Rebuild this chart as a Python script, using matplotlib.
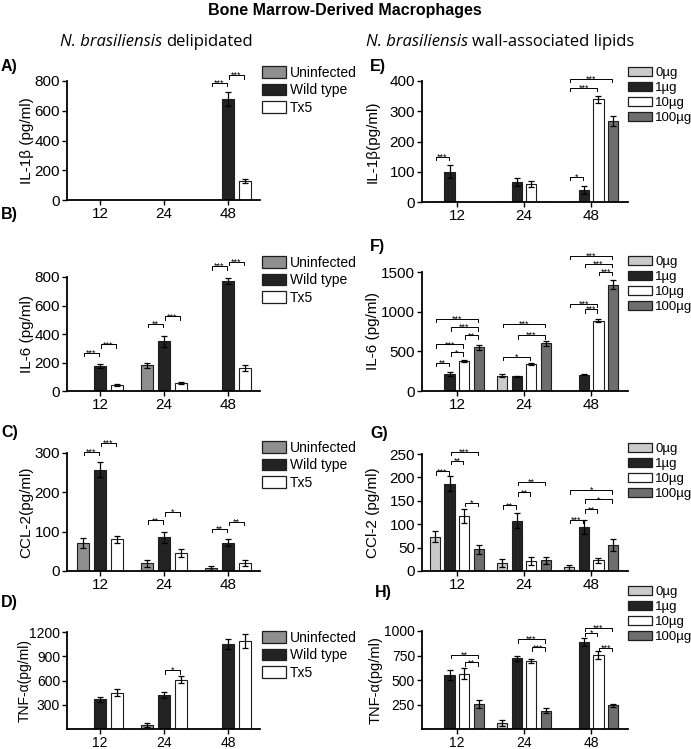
import matplotlib
matplotlib.use('Agg')
import matplotlib.pyplot as plt
import numpy as np
from matplotlib.patches import Patch

plt.rcParams['font.family'] = ['Liberation Sans', 'DejaVu Sans']

# ---------------- data ----------------
times = ['12', '24', '48']
left_groups = ['Uninfected', 'Wild type', 'Tx5']
right_groups = ['0µg', '1µg', '10µg', '100µg']

# A) IL-1b, delipidated (rows: Uninfected, Wild type, Tx5; cols: 12, 24, 48)
il1b_del_mean = [[0, 0, 0], [0, 0, 680], [0, 0, 130]]
il1b_del_err = [[0, 0, 0], [0, 0, 45], [0, 0, 14]]
il1b_del_sig = [(2, 0, 1, 787, '***'), (2, 1, 2, 840, '***')]

# B) IL-6, delipidated
il6_del_mean = [[0, 180, 0], [175, 348, 770], [40, 56, 161]]
il6_del_err = [[0, 19, 0], [17, 38, 22], [8, 10, 18]]
il6_del_sig = [(0, 0, 1, 269, '***'), (0, 1, 2, 327, '***'),
               (1, 0, 1, 472, '**'), (1, 1, 2, 524, '***'),
               (2, 0, 1, 877, '***'), (2, 1, 2, 907, '***')]

# C) CCL-2, delipidated
ccl2_del_mean = [[71, 20, 8.5], [258, 86, 72], [81, 46, 20]]
ccl2_del_err = [[13, 9, 5], [19, 14, 9], [9, 11, 7]]
ccl2_del_sig = [(0, 0, 1, 303, '***'), (0, 1, 2, 326, '***'),
                (1, 0, 1, 129, '**'), (1, 1, 2, 150, '*'),
                (2, 0, 1, 107, '**'), (2, 1, 2, 125, '**')]

# D) TNF-a, delipidated
tnf_del_mean = [[0, 55, 0], [365, 420, 1055], [450, 610, 1085]]
tnf_del_err = [[0, 25, 0], [25, 40, 60], [45, 45, 85]]
tnf_del_sig = [(1, 1, 2, 729, '*')]

# E) IL-1b, wall-associated lipids (rows: 0, 1, 10, 100 ug)
il1b_lip_mean = [[0, 0, 0], [100, 66, 40], [0, 60, 339], [0, 0, 268]]
il1b_lip_err = [[0, 0, 0], [22, 13, 12], [0, 10, 12], [0, 0, 16]]
il1b_lip_sig = [(0, 0, 1, 149, '***'), (2, 0, 1, 83, '*'),
                (2, 0, 2, 377, '***'), (2, 0, 3, 407, '***')]

# F) IL-6, lipids
il6_lip_mean = [[0, 194, 0], [215, 185, 206], [375, 341, 885], [552, 603, 1340]]
il6_lip_err = [[0, 20, 0], [20, 10, 10], [15, 12, 20], [30, 30, 60]]
il6_lip_sig = [(0, 0, 1, 358, '**'), (0, 1, 2, 489, '*'), (0, 0, 2, 590, '***'),
               (0, 2, 3, 700, '**'), (0, 1, 3, 805, '***'), (0, 0, 3, 910, '***'),
               (1, 0, 2, 434, '*'), (1, 1, 3, 704, '***'), (1, 0, 3, 847, '***'),
               (2, 1, 2, 1032, '***'), (2, 0, 2, 1100, '***'), (2, 2, 3, 1504, '***'),
               (2, 1, 3, 1605, '***'), (2, 0, 3, 1707, '***')]

# G) CCl-2, lipids
ccl2_lip_mean = [[73, 17, 8], [186, 107, 94], [118, 21, 23], [46, 23, 55]]
ccl2_lip_err = [[12, 8, 5], [16, 16, 14], [15, 9, 5], [9, 7, 13]]
ccl2_lip_sig = [(0, 0, 1, 213, '***'), (0, 1, 2, 236, '**'), (0, 1, 3, 255, '***'),
                (0, 2, 3, 146, '*'),
                (1, 0, 1, 140, '**'), (1, 1, 2, 168, '**'), (1, 1, 3, 191, '**'),
                (2, 0, 1, 110, '***'), (2, 1, 2, 132, '**'), (2, 1, 3, 153, '*'),
                (2, 0, 3, 173, '*')]

# H) TNF-a, lipids
tnf_lip_mean = [[0, 65, 0], [550, 720, 889], [563, 695, 752], [251, 186, 241]]
tnf_lip_err = [[0, 30, 0], [55, 30, 40], [55, 20, 40], [40, 25, 15]]
tnf_lip_sig = [(0, 1, 3, 756, '**'), (0, 2, 3, 681, '**'),
               (1, 1, 3, 918, '***'), (1, 2, 3, 834, '***'),
               (2, 1, 2, 984, '*'), (2, 1, 3, 1033, '***'), (2, 2, 3, 827, '***')]

left_colors = ['#8f8f8f', '#232323', '#ffffff']
right_colors = ['#cbcbcb', '#232323', '#ffffff', '#6e6e6e']
EDGE = '#1e1e1e'

# ---------------- figure ----------------
W, H = 691, 749
fig = plt.figure(figsize=(W / 100, H / 100), dpi=100)


def rect(x0, x1, yt, yb):
    return [x0 / W, 1 - yb / H, (x1 - x0) / W, (yb - yt) / H]


def panel(box, means, errs, colors, step, width, xlim, ymax, yticks, sigs,
          ylabel, ylabel_px, letter, letter_pos, legend_labels, legend_pos,
          legend_kw, tsize=11, lsize=11):
    x0, x1, yt, yb = box
    ax = fig.add_axes(rect(x0, x1, yt, yb))
    n = len(means)
    xs = np.arange(len(times))
    for i, (m, e, c) in enumerate(zip(means, errs, colors)):
        off = (i - (n - 1) / 2) * step
        m = np.array(m, float)
        e = np.array(e, float)
        ax.bar(xs + off, m, width, color=c, edgecolor=EDGE, linewidth=0.8, zorder=2)
        mask = m > 0
        ax.errorbar((xs + off)[mask], m[mask], yerr=e[mask], fmt='none',
                    ecolor='black', elinewidth=0.9, capsize=2.5, capthick=0.9,
                    zorder=3)
    d = ymax * 3.5 / (yb - yt)
    for (t, i, j, h, lab) in sigs:
        xa = t + (i - (n - 1) / 2) * step + 0.015
        xb = t + (j - (n - 1) / 2) * step - 0.015
        ax.plot([xa, xa, xb, xb], [h - d, h, h, h - d], color='black', lw=0.7,
                clip_on=False, zorder=4)
        ax.annotate(lab, ((xa + xb) / 2, h), xytext=(0, -2.2),
                    textcoords='offset points', ha='center', va='baseline',
                    fontsize=6.5, annotation_clip=False)
    ax.set_xlim(*xlim)
    ax.set_ylim(0, ymax)
    ax.set_yticks(yticks)
    ax.set_xticks(xs)
    ax.set_xticklabels(times)
    for s in ['top', 'right']:
        ax.spines[s].set_visible(False)
    for s in ['left', 'bottom']:
        ax.spines[s].set_linewidth(1.3)
    ax.tick_params(direction='out', length=3.5, width=1.0, labelsize=tsize, pad=1.5)
    ax.set_ylabel(ylabel, fontsize=lsize)
    ax.yaxis.label.set_va('center')
    ax.yaxis.set_label_coords((ylabel_px - x0) / (x1 - x0), 0.5)
    fig.text(letter_pos[0] / W, 1 - letter_pos[1] / H, letter, fontweight='bold',
             fontsize=11.5, ha='left', va='center')
    handles = [Patch(facecolor=c, edgecolor=EDGE, linewidth=0.9) for c in colors]
    ax.legend(handles, legend_labels, loc='upper left',
              bbox_to_anchor=(legend_pos[0] / W, 1 - legend_pos[1] / H),
              bbox_transform=fig.transFigure, frameon=False, borderpad=0,
              borderaxespad=0, **legend_kw)
    return ax


LSTEP, LWID = 0.266, 0.19
RSTEP, RWID = 0.217, 0.155
LXLIM = (-0.516, 2.5)
RXLIM = (-0.52, 2.55)
LBOX_X = (67, 260)
RBOX_X = (422, 628)
lkw = dict(fontsize=10, handlelength=1.7, handleheight=0.9, handletextpad=0.3,
           labelspacing=0.25)
rkw = dict(fontsize=9.5, handlelength=1.8, handleheight=0.7, handletextpad=0.25,
           labelspacing=0.2)

panel((*LBOX_X, 81, 200), il1b_del_mean, il1b_del_err, left_colors, LSTEP, LWID,
      LXLIM, 800, [0, 200, 400, 600, 800], il1b_del_sig, 'IL-1β (pg/ml)', 27,
      'A)', (1, 67), left_groups, (262, 66), lkw)
panel((*LBOX_X, 277, 391), il6_del_mean, il6_del_err, left_colors, LSTEP, LWID,
      LXLIM, 800, [0, 200, 400, 600, 800], il6_del_sig, 'IL-6 (pg/ml)', 27,
      'B)', (1, 214), left_groups, (262, 256), lkw)
panel((*LBOX_X, 453, 571), ccl2_del_mean, ccl2_del_err, left_colors, LSTEP, LWID,
      LXLIM, 300, [0, 100, 200, 300], ccl2_del_sig, 'CCL-2(pg/ml)', 26,
      'C)', (1, 432), left_groups, (262, 441), lkw)
panel((*LBOX_X, 632, 729), tnf_del_mean, tnf_del_err, left_colors, LSTEP, LWID,
      LXLIM, 1200, [300, 600, 900, 1200], tnf_del_sig, 'TNF-α(pg/ml)', 25,
      'D)', (1, 603), left_groups, (262, 631), lkw, tsize=10, lsize=10)

panel((*RBOX_X, 81, 202), il1b_lip_mean, il1b_lip_err, right_colors, RSTEP, RWID,
      RXLIM, 400, [0, 100, 200, 300, 400], il1b_lip_sig, 'IL-1β(pg/ml)', 373,
      'E)', (370, 67), right_groups, (628, 67), rkw)
panel((*RBOX_X, 272, 391), il6_lip_mean, il6_lip_err, right_colors, RSTEP, RWID,
      RXLIM, 1500, [0, 500, 1000, 1500], il6_lip_sig, 'IL-6 (pg/ml)', 373,
      'F)', (370, 247), right_groups, (628, 256), rkw)
panel((*RBOX_X, 454, 571), ccl2_lip_mean, ccl2_lip_err, right_colors, RSTEP, RWID,
      RXLIM, 250, [0, 50, 100, 150, 200, 250], ccl2_lip_sig, 'CCl-2 (pg/ml)', 373,
      'G)', (370, 433), right_groups, (628, 443), rkw)
panel((*RBOX_X, 631, 729), tnf_lip_mean, tnf_lip_err, right_colors, RSTEP, RWID,
      RXLIM, 1000, [250, 500, 750, 1000], tnf_lip_sig, 'TNF-α(pg/ml)', 376,
      'H)', (375, 593), right_groups, (628, 586), rkw, tsize=10, lsize=10.5)

# titles
fig.text(345 / W, 1 - 10 / H, 'Bone Marrow-Derived Macrophages', ha='center',
         va='center', fontweight='bold', fontsize=11.5)
sub_kw = dict(va='center', fontsize=12, family=['Open Sans', 'DejaVu Sans'])
fig.text(162 / W, 1 - 42 / H, 'N. brasiliensis', ha='right', style='italic', **sub_kw)
fig.text(166 / W, 1 - 42 / H, 'delipidated', ha='left', **sub_kw)
fig.text(468 / W, 1 - 42 / H, 'N. brasiliensis', ha='right', style='italic', **sub_kw)
fig.text(472 / W, 1 - 42 / H, 'wall-associated lipids', ha='left', **sub_kw)

fig.savefig('out.png', dpi=100)
